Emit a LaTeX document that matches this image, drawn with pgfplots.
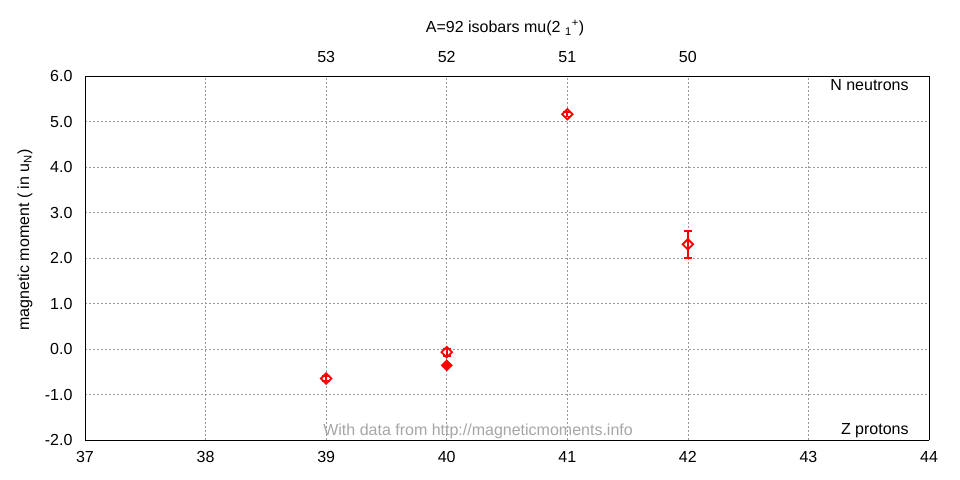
\documentclass[border=0pt]{standalone}
\usepackage{pgfplots}
\pgfplotsset{compat=1.18}
\usepackage{fontspec}
\setmainfont{Liberation Sans}
\begin{document}
\begin{tikzpicture}[x=1bp,y=1bp]
\useasboundingbox (0,0) rectangle (960,480);
\fill[white] (0,0) rectangle (960,480);
\begin{axis}[
  at={(85bp,40bp)}, anchor=south west,
  scale only axis, width=844bp, height=364bp,
  xmin=37, xmax=44, ymin=-2, ymax=6,
  xtick={37,38,...,44}, ytick={-2,-1,...,6},
  axis x line*=bottom, axis y line*=left,
  major tick length=0pt,
  font=\fontsize{16bp}{18bp}\selectfont,
  yticklabel style={xshift=-9bp, /pgf/number format/.cd, fixed, fixed zerofill, precision=1, assume math mode=true},
  xticklabel style={yshift=-8bp, /pgf/number format/assume math mode=true},
  grid=major,
  grid style={gray!80, line width=0.6pt, dash pattern=on 2bp off 2bp},
  axis line style={black, line width=0.8pt},
  clip=false,
]
\addplot[only marks, red, mark=square, mark options={rotate=45}, mark size=3.7bp, line width=1.8pt,
  error bars/.cd, y dir=both, y explicit, error bar style={line width=1.8pt, red}, error mark options={rotate=90, mark size=4bp, line width=1.8pt}]
  coordinates {(39,-0.65) +- (0,0.05) (40,-0.07) +- (0,0.08) (41,5.16) +- (0,0.05) (42,2.30) +- (0,0.30)};
\addplot[only marks, red, mark=square*, mark options={rotate=45}, mark size=3.7bp, line width=1.2pt]
  coordinates {(40,-0.36)};
\node[anchor=east] at (axis cs:43.86,5.80) {N neutrons};
\node[anchor=east] at (axis cs:43.86,-1.80) {Z protons};
\node[gray!70] at (axis cs:40.26,-1.80) {With data from http://magneticmoments.info};
\end{axis}
\begin{axis}[
  at={(85bp,40bp)}, anchor=south west,
  scale only axis, width=844bp, height=364bp,
  xmin=37, xmax=44, ymin=-2, ymax=6,
  axis x line*=top, axis y line*=right,
  hide y axis,
  major tick length=0pt,
  font=\fontsize{16bp}{18bp}\selectfont,
  xtick={39,40,41,42}, xticklabels={53,52,51,50},
  xticklabel style={yshift=10bp},
  axis line style={black, line width=0.8pt},
]
\addplot[draw=none] coordinates {(37,0)};
\end{axis}
\draw[black, line width=0.8pt] (929,40) -- (929,404);
\node[font=\fontsize{16bp}{18bp}\selectfont] at (505,452) {A=92 isobars mu(2 \textsubscript{1}\textsuperscript{+})};
\node[rotate=90, font=\fontsize{16bp}{18bp}\selectfont] at (25,240) {magnetic moment ( in u\textsubscript{N})};
\end{tikzpicture}
\end{document}
